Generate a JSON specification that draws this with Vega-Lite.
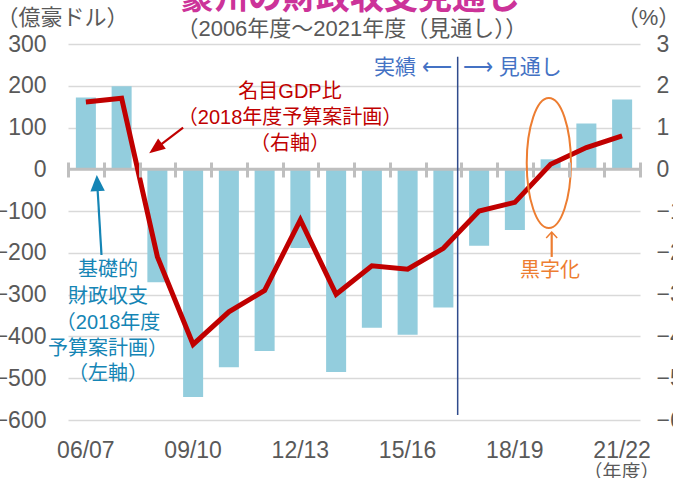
{
"$schema":"https://vega.github.io/schema/vega-lite/v6.json",
"width":572,"height":376,"autosize":"none",
"padding":{"left":68,"top":44,"right":33,"bottom":58},
"config":{"view":{"stroke":null},"font":"Liberation Sans, Noto Sans CJK JP"},
"datasets":{
"fiscal":[
{"fy":"06/07","balance":172,"gdp":1.61},
{"fy":"07/08","balance":199,"gdp":1.70},
{"fy":"08/09","balance":-270,"gdp":-2.09},
{"fy":"09/10","balance":-545,"gdp":-4.19},
{"fy":"10/11","balance":-474,"gdp":-3.41},
{"fy":"11/12","balance":-435,"gdp":-2.90},
{"fy":"12/13","balance":-188,"gdp":-1.21},
{"fy":"13/14","balance":-485,"gdp":-2.99},
{"fy":"14/15","balance":-379,"gdp":-2.31},
{"fy":"15/16","balance":-396,"gdp":-2.39},
{"fy":"16/17","balance":-331,"gdp":-1.89},
{"fy":"17/18","balance":-183,"gdp":-1.00},
{"fy":"18/19","balance":-145,"gdp":-0.79},
{"fy":"19/20","balance":24,"gdp":0.12},
{"fy":"20/21","balance":110,"gdp":0.52},
{"fy":"21/22","balance":167,"gdp":0.80}
],
"notes":[
{"kind":"gdp","label":"名目GDP比","ax":6.21,"ay":185},
{"kind":"gdp","label":"（2018年度予算案計画）","ax":6.21,"ay":122.8},
{"kind":"gdp","label":"（右軸）","ax":6.21,"ay":60.5},
{"kind":"balance","label":"基礎的","ax":1.12,"ay":-241},
{"kind":"balance","label":"財政収支","ax":1.12,"ay":-305.8},
{"kind":"balance","label":"（2018年度","ax":1.12,"ay":-368},
{"kind":"balance","label":"予算案計画）","ax":1.12,"ay":-430.2},
{"kind":"balance","label":"（左軸）","ax":1.12,"ay":-490},
{"kind":"surplus","label":"黒字化","ax":13.48,"ay":-243.4}
],
"periods":[
{"kind":"actual","label":"実績 ⟵","ax":10.74,"ay":242.5},
{"kind":"outlook","label":"⟶ 見通し","ax":11.05,"ay":242.5}
],
"titles":[
{"kind":"title","label":"豪州の財政収支見通し","ax":7.89,"ay":383.7},
{"kind":"subtitle","label":"（2006年度～2021年度（見通し））","ax":7.94,"ay":335.8}
],
"arrows":[
{"kind":"gdp","ax":3.22,"ay":99.6,"ax2":2.45,"ay2":49.8},
{"kind":"balance","ax":0.937,"ay":-205.1,"ax2":0.817,"ay2":-32.8},
{"kind":"surplus","ax":13.53,"ay":-209.7,"ax2":13.53,"ay2":-152}
],
"heads":[
{"kind":"gdp","ax":2.45,"ay":49.8},
{"kind":"balance","ax":0.817,"ay":-32.8},
{"kind":"surplus","ax":13.53,"ay":-150}
],
"marks":[
{"kind":"ellipse","ax":13.45,"ay":15},
{"kind":"divider","ax":10.9,"ay":269.5,"ay2":-588}
]
},
"layer":[
{"data":{"name":"fiscal"},"mark":{"type":"bar","color":"#93CDDD"},
"encoding":{
"x":{"field":"fy","type":"ordinal","sort":null,"scale":{"type":"band","paddingInner":0.44,"paddingOuter":0.22},
"axis":{"orient":"bottom","values":["06/07","09/10","12/13","15/16","18/19","21/22"],"ticks":false,"tickSize":0,"domain":false,"grid":false,"labelFontSize":23,"labelColor":"#595959","labelPadding":19,"labelAngle":0,"title":"（年度）","titleX":553,"titleY":52,"titleAlign":"center","titleBaseline":"middle","titleFontSize":19,"titleFontWeight":"normal","titleColor":"#595959"}},
"y":{"field":"balance","type":"quantitative","scale":{"domain":[-600,300],"nice":false,"zero":false},
"axis":{"orient":"left","values":[-600,-500,-400,-300,-200,-100,0,100,200,300],"grid":true,"gridColor":"#D9D9D9","gridWidth":1.5,"domain":false,"ticks":false,"tickSize":0,"labelFontSize":23,"labelColor":"#595959","labelPadding":22,"title":"（億豪ドル）","titleAngle":0,"titleX":-6,"titleY":-27,"titleAlign":"center","titleBaseline":"middle","titleFontSize":22,"titleFontWeight":"normal","titleColor":"#595959"}}
}},
{"data":{"values":[{}]},"mark":{"type":"rule","color":"#BFBFBF","strokeWidth":3},
"encoding":{"y":{"datum":0,"type":"quantitative","scale":{"domain":[-600,300],"nice":false,"zero":false},"axis":null}}},
{"data":{"name":"marks"},"transform":[{"filter":"datum.kind==='divider'"}],
"mark":{"type":"rule","color":"#2F4B8C","strokeWidth":1.5},
"encoding":{
"x":{"field":"ax","type":"quantitative","scale":{"domain":[0,16],"nice":false,"zero":false},"axis":null},
"y":{"field":"ay","type":"quantitative","scale":{"domain":[-600,300],"nice":false,"zero":false},"axis":null},
"y2":{"field":"ay2"}}},
{"data":{"name":"fiscal"},"mark":{"type":"line","color":"#C00000","strokeWidth":5,"strokeJoin":"miter","strokeCap":"butt"},
"encoding":{
"x":{"field":"fy","type":"ordinal","sort":null,"bandPosition":0.5,"scale":{"type":"band","paddingInner":0,"paddingOuter":0},
"axis":{"orient":"bottom","offset":-258,"labels":false,"domain":false,"grid":false,"ticks":true,"tickBand":"extent","tickSize":15,"tickWidth":3,"tickColor":"#BFBFBF","title":null,"zindex":1}},
"y":{"field":"gdp","type":"quantitative","scale":{"domain":[-6,3],"nice":false,"zero":false},
"axis":{"orient":"right","values":[-6,-5,-4,-3,-2,-1,0,1,2,3],"grid":false,"domain":false,"ticks":false,"tickSize":0,"labelFontSize":23,"labelColor":"#595959","labelPadding":16,"title":"（%）","titleAngle":0,"titleX":8,"titleY":-27,"titleAlign":"center","titleBaseline":"middle","titleFontSize":22,"titleFontWeight":"normal","titleColor":"#595959"}}
}},
{"data":{"name":"notes"},"mark":{"type":"text","fontSize":20,"align":"center","baseline":"middle"},
"encoding":{
"x":{"field":"ax","type":"quantitative","scale":{"domain":[0,16],"nice":false,"zero":false},"axis":null},
"y":{"field":"ay","type":"quantitative","scale":{"domain":[-600,300],"nice":false,"zero":false},"axis":null},
"text":{"field":"label"},
"color":{"field":"kind","type":"nominal","scale":{"domain":["gdp","balance","surplus"],"range":["#C00000","#1585B5","#ED7D31"]},"legend":null}}},
{"data":{"name":"periods"},"transform":[{"filter":"datum.kind==='actual'"}],
"mark":{"type":"text","fontSize":21,"align":"right","baseline":"middle","color":"#4472C4"},
"encoding":{
"x":{"field":"ax","type":"quantitative","scale":{"domain":[0,16],"nice":false,"zero":false},"axis":null},
"y":{"field":"ay","type":"quantitative","scale":{"domain":[-600,300],"nice":false,"zero":false},"axis":null},
"text":{"field":"label"}}},
{"data":{"name":"periods"},"transform":[{"filter":"datum.kind==='outlook'"}],
"mark":{"type":"text","fontSize":21,"align":"left","baseline":"middle","color":"#4472C4"},
"encoding":{
"x":{"field":"ax","type":"quantitative","scale":{"domain":[0,16],"nice":false,"zero":false},"axis":null},
"y":{"field":"ay","type":"quantitative","scale":{"domain":[-600,300],"nice":false,"zero":false},"axis":null},
"text":{"field":"label"}}},
{"data":{"name":"titles"},"transform":[{"filter":"datum.kind==='title'"}],
"mark":{"type":"text","fontSize":34,"fontWeight":"bold","align":"center","baseline":"alphabetic","color":"#CC3399"},
"encoding":{
"x":{"field":"ax","type":"quantitative","scale":{"domain":[0,16],"nice":false,"zero":false},"axis":null},
"y":{"field":"ay","type":"quantitative","scale":{"domain":[-600,300],"nice":false,"zero":false},"axis":null},
"text":{"field":"label"}}},
{"data":{"name":"titles"},"transform":[{"filter":"datum.kind==='subtitle'"}],
"mark":{"type":"text","fontSize":22,"align":"center","baseline":"middle","color":"#595959"},
"encoding":{
"x":{"field":"ax","type":"quantitative","scale":{"domain":[0,16],"nice":false,"zero":false},"axis":null},
"y":{"field":"ay","type":"quantitative","scale":{"domain":[-600,300],"nice":false,"zero":false},"axis":null},
"text":{"field":"label"}}},
{"data":{"name":"arrows"},"mark":{"type":"rule","strokeWidth":2.2},
"encoding":{
"x":{"field":"ax","type":"quantitative","scale":{"domain":[0,16],"nice":false,"zero":false},"axis":null},
"y":{"field":"ay","type":"quantitative","scale":{"domain":[-600,300],"nice":false,"zero":false},"axis":null},
"x2":{"field":"ax2"},"y2":{"field":"ay2"},
"color":{"field":"kind","type":"nominal","scale":{"domain":["gdp","balance","surplus"],"range":["#C00000","#1585B5","#ED7D31"]},"legend":null}}},
{"data":{"name":"heads"},"transform":[{"filter":"datum.kind==='gdp'"}],
"mark":{"type":"point","shape":"M0,-1L0.8,1L-0.8,1Z","size":256,"angle":233,"filled":true,"color":"#C00000","opacity":1},
"encoding":{
"x":{"field":"ax","type":"quantitative","scale":{"domain":[0,16],"nice":false,"zero":false},"axis":null},
"y":{"field":"ay","type":"quantitative","scale":{"domain":[-600,300],"nice":false,"zero":false},"axis":null}}},
{"data":{"name":"heads"},"transform":[{"filter":"datum.kind==='balance'"}],
"mark":{"type":"point","shape":"M0,-1L0.9,1L-0.9,1Z","size":256,"angle":357,"filled":true,"color":"#1585B5","opacity":1},
"encoding":{
"x":{"field":"ax","type":"quantitative","scale":{"domain":[0,16],"nice":false,"zero":false},"axis":null},
"y":{"field":"ay","type":"quantitative","scale":{"domain":[-600,300],"nice":false,"zero":false},"axis":null}}},
{"data":{"name":"heads"},"transform":[{"filter":"datum.kind==='surplus'"}],
"mark":{"type":"point","shape":"M-1,1.1L0,0L1,1.1","size":121,"filled":false,"color":"#ED7D31","strokeWidth":1.5,"opacity":1},
"encoding":{
"x":{"field":"ax","type":"quantitative","scale":{"domain":[0,16],"nice":false,"zero":false},"axis":null},
"y":{"field":"ay","type":"quantitative","scale":{"domain":[-600,300],"nice":false,"zero":false},"axis":null}}},
{"data":{"name":"marks"},"transform":[{"filter":"datum.kind==='ellipse'"}],
"mark":{"type":"point","shape":"M0,-1C0.1878,-1 0.34,-0.5523 0.34,0C0.34,0.5523 0.1878,1 0,1C-0.1878,1 -0.34,0.5523 -0.34,0C-0.34,-0.5523 -0.1878,-1 0,-1Z","size":16900,"filled":false,"color":"#ED7D31","strokeWidth":2,"opacity":1},
"encoding":{
"x":{"field":"ax","type":"quantitative","scale":{"domain":[0,16],"nice":false,"zero":false},"axis":null},
"y":{"field":"ay","type":"quantitative","scale":{"domain":[-600,300],"nice":false,"zero":false},"axis":null}}}
],
"resolve":{"scale":{"x":"independent","y":"independent"},"axis":{"x":"independent","y":"independent"}}
}
